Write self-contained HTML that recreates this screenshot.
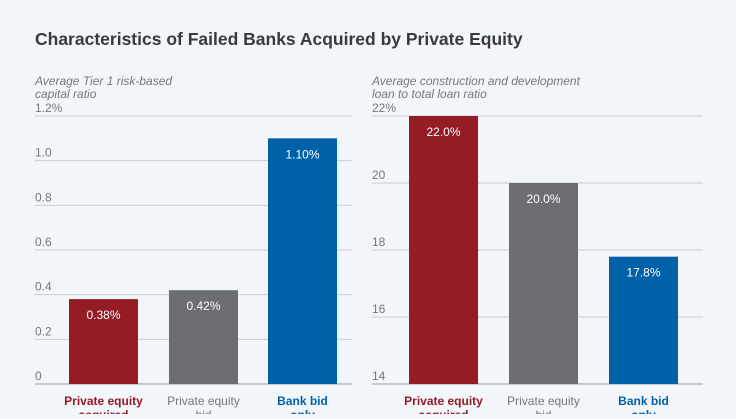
<!DOCTYPE html>
<html><head><meta charset="utf-8"><style>
body{margin:0;background:#f2f5f9;width:736px;height:414px;overflow:hidden;font-family:"Liberation Sans",sans-serif}
svg text{font-family:"Liberation Sans",sans-serif}
</style></head><body>
<svg id="c" width="736" height="414">
<text x="35" y="45" font-size="17.5" font-weight="bold" fill="#3a3a3a">Characteristics of Failed Banks Acquired by Private Equity</text>
<text x="35" y="85" font-size="12" font-style="italic" fill="#777">Average Tier 1 risk-based</text>
<text x="35" y="98" font-size="12" font-style="italic" fill="#777">capital ratio</text>
<text x="372" y="85" font-size="12" font-style="italic" fill="#777">Average construction and development</text>
<text x="372" y="98" font-size="12" font-style="italic" fill="#777">loan to total loan ratio</text>
</svg>
<script>
const categories=["Private equity|acquired","Private equity|bid","Bank bid|only"];
const leftValues=[0.38,0.42,1.10];
const leftLabels=["0.38%","0.42%","1.10%"];
const leftTicks=[0,0.2,0.4,0.6,0.8,1.0,1.2];
const leftTickLabels=["0","0.2","0.4","0.6","0.8","1.0","1.2%"];
const rightValues=[22.0,20.0,17.8];
const rightLabels=["22.0%","20.0%","17.8%"];
const rightTicks=[14,16,18,20,22];
const rightTickLabels=["14","16","18","20","22%"];
const colors=["#951b24","#6d6e71","#0061a8"];
const catColors=["#951b24","#777","#0061a8"];
const svg=document.getElementById('c');const NS="http://www.w3.org/2000/svg";
function mk(t,a){const e=document.createElementNS(NS,t);for(const k in a)e.setAttribute(k,a[k]);svg.appendChild(e);return e;}
function panel(p,vals,labs,ticks,tl,min,max,x0,x1,barX){
 const y=v=>384-(v-min)/(max-min)*268;
 ticks.forEach((t,i)=>{
  const l=mk('line',{x1:x0,x2:x1,y1:y(t),y2:y(t),stroke:i==0?'#999':'#ccc','stroke-width':1});
  
  
  const tx=mk('text',{x:x0,y:y(t)-4,'font-size':12,fill:'#777'});tx.textContent=tl[i];
  
  
 });
 vals.forEach((v,i)=>{
  const r=mk('rect',{x:barX[i],y:y(v),width:69,height:384-y(v),fill:colors[i]});
  
  
  const t=mk('text',{x:barX[i]+34.5,y:y(v)+20,'font-size':12,fill:'#fff','text-anchor':'middle'});t.textContent=labs[i];
  
  
  categories[i].split('|').forEach((s,j)=>{
   const c=mk('text',{x:barX[i]+34.5,y:405+j*14,'font-size':12,'font-weight':i==1?'normal':'bold',fill:catColors[i],'text-anchor':'middle'});c.textContent=s;
   
   
  });
 });
}
panel('left',leftValues,leftLabels,leftTicks,leftTickLabels,0,1.2,35,352,[69,169,268]);
panel('right',rightValues,rightLabels,rightTicks,rightTickLabels,14,22,372,703,[409,509,609]);
</script>
</body></html>
